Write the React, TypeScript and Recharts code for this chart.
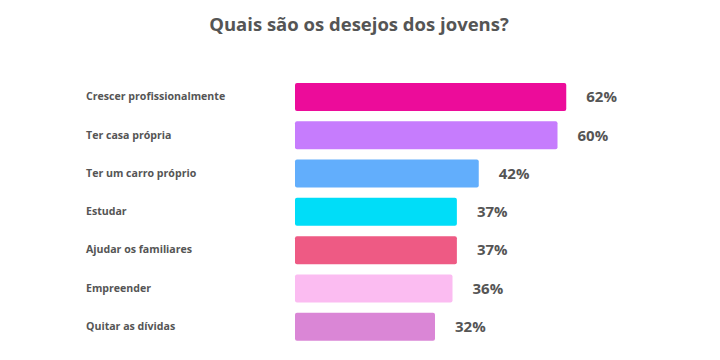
import { BarChart, Bar, XAxis, YAxis, Cell, LabelList } from 'recharts';

const categories = [
  'Crescer profissionalmente',
  'Ter casa própria',
  'Ter um carro próprio',
  'Estudar',
  'Ajudar os familiares',
  'Empreender',
  'Quitar as dívidas',
];
const values = [62, 60, 42, 37, 37, 36, 32];

const BAR_COLORS = ['#ec0c9a', '#c67cfd', '#62aefc', '#00ddf8', '#ee5a84', '#fbbcf1', '#da86d6'];
const FONT = '"Open Sans", "Noto Sans", sans-serif';
const TEXT = '#555';

const data = categories.map((name, i) => ({ name, value: values[i] }));

const CategoryTick = (props: any) => {
  const { y, payload } = props;
  return (
    <text x={86} y={y} dy="0.3em" textAnchor="start" fontFamily={FONT} fontSize={10.6} fontWeight={700} fill={TEXT}>
      {payload.value}
    </text>
  );
};

export default function App() {
  return (
    <div style={{ position: 'absolute', left: 0, top: 0, width: 720, height: 360, background: '#fff' }}>
      <div
        style={{
          position: 'absolute',
          left: 0,
          top: 13,
          width: 718,
          textAlign: 'center',
          fontFamily: FONT,
          fontSize: 18.5,
          lineHeight: '22px',
          fontWeight: 700,
          color: TEXT,
        }}
      >
        Quais são os desejos dos jovens?
      </div>
      <BarChart
        width={720}
        height={360}
        data={data}
        layout="vertical"
        margin={{ top: 78, right: 75, left: 0, bottom: 14 }}
      >
        <XAxis type="number" domain={[0, 80]} hide />
        <YAxis
          type="category"
          dataKey="name"
          width={295}
          axisLine={false}
          tickLine={false}
          tick={<CategoryTick />}
        />
        <Bar dataKey="value" barSize={28} radius={2} isAnimationActive={false}>
          {data.map((d, i) => (
            <Cell key={d.name} fill={BAR_COLORS[i]} />
          ))}
          <LabelList
            dataKey="value"
            position="right"
            offset={20}
            formatter={(v: any) => `${v}%`}
            style={{ fontFamily: FONT, fontSize: 15, fontWeight: 700, fill: TEXT }}
          />
        </Bar>
      </BarChart>
    </div>
  );
}
